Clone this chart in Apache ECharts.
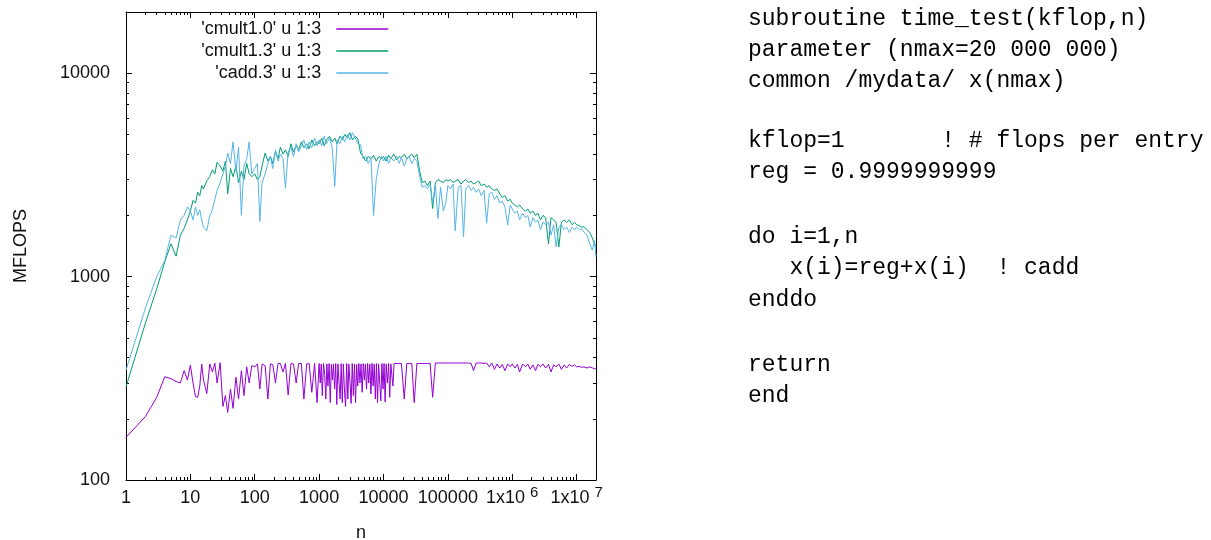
<!DOCTYPE html>
<html><head><meta charset="utf-8">
<script src="https://cdn.jsdelivr.net/npm/echarts@6/dist/echarts.min.js"></script>
<style>html,body{margin:0;padding:0;background:#fff;} #chart{width:1211px;height:540px;}</style>
</head><body><div id="chart"></div>
<script>
// n values (x) for 'cmult1.3' and 'cadd.3'
const nValues = [
  1,2,3,4,5,6,7,8,9,
  10,11,12,13,14,15,16,18,20,22,24,26,29,32,35,38,42,46,51,56,62,68,75,82,90,
  100,110,120,130,145,160,175,190,210,230,250,275,300,330,365,400,440,480,530,580,640,700,770,850,930,
  1000,1100,1200,1300,1450,1600,1750,1900,2100,2300,2500,2750,3000,3300,3650,4000,4400,4800,5300,5800,6400,7000,7700,8500,9300,
  10000,11000,12000,13000,14500,16000,17500,19000,21000,23000,25000,27500,30000,33000,36500,40000,44000,48000,53000,58000,64000,70000,77000,85000,93000,
  100000,110000,120000,130000,145000,160000,175000,190000,210000,230000,250000,275000,300000,330000,365000,400000,440000,480000,530000,580000,640000,700000,770000,850000,930000,
  1000000,1100000,1200000,1300000,1450000,1600000,1750000,1900000,2100000,2300000,2500000,2750000,3000000,3300000,3650000,4000000,4400000,4800000,5300000,5800000,6400000,7000000,7700000,8500000,9300000,
  10000000,11000000,12000000,13000000,14500000,16000000,17500000,19000000,20000000
];
// n values (x) for 'cmult1.0' (denser where it is noisy)
const nPurple = [
  1,2,3,4,5,6,7,8,9,
  10,11,12,13,14,15,16,18,20,22,24,26,29,32,35,38,42,46,51,56,62,68,75,82,90,
  100,110,120,130,145,160,175,190,210,230,250,275,300,330,365,400,440,480,530,580,640,700,770,850,930,
  1000,1040,1080,1120,1170,1220,1270,1320,1370,1430,1490,1550,1610,1670,
  1740,1810,1880,1960,2040,2120,2200,2290,2380,2480,2580,2680,
  2790,2900,3020,3140,3270,3400,3540,3680,3830,3980,4140,4310,
  4480,4660,4850,5040,5240,5450,5670,5900,6140,6380,6640,6900,
  7180,7470,7770,8080,8400,8740,9090,9450,9830,
  10200,10600,11000,11500,12000,12500,13000,13500,14000,14600,
  15500,17000,19000,21000,23000,25000,27500,30000,33000,36500,40000,44000,48000,53000,58000,64000,70000,77000,85000,93000,
  100000,110000,120000,130000,145000,160000,175000,190000,210000,230000,250000,275000,300000,330000,365000,400000,440000,480000,530000,580000,640000,700000,770000,850000,930000,
  1000000,1100000,1200000,1300000,1450000,1600000,1750000,1900000,2100000,2300000,2500000,2750000,3000000,3300000,3650000,4000000,4400000,4800000,5300000,5800000,6400000,7000000,7700000,8500000,9300000,
  10000000,11000000,12000000,13000000,14500000,16000000,17500000,19000000,20000000
];
// MFLOPS, 'cmult1.0' u 1:3
const cmult10 = [
  162,205,255,322,315,305,300,345,310,
  367,300,257,255,290,372,310,266,372,340,375,300,377,230,260,215,280,225,320,250,345,260,360,300,365,
  360,372,280,372,365,250,372,370,300,374,374,340,374,262,374,372,300,374,374,250,372,374,270,374,240,
  374,300,372,260,374,330,250,372,290,374,240,370,310,372,
  280,374,235,372,300,250,374,240,372,270,230,374,
  250,372,300,238,374,260,372,240,370,290,374,300,
  372,270,374,310,372,280,374,300,372,265,374,290,
  372,250,374,240,372,300,245,374,280,
  374,242,372,300,374,255,372,374,290,374,
  374,374,374,250,374,374,374,240,374,374,374,374,374,374,255,376,376,376,376,376,
  376,376,376,376,376,376,376,376,376,374,345,376,376,376,374,376,360,376,350,372,355,370,345,372,360,
  372,355,370,340,372,360,372,350,368,345,370,360,372,355,370,340,368,360,372,350,368,355,370,362,368,
  360,362,358,360,355,360,356,352,355
];
// MFLOPS, 'cmult1.3' u 1:3
const cmult13 = [
  287,590,870,1180,1450,1260,1600,1730,1900,
  2100,2370,2300,2600,2500,2800,2700,2960,3100,3350,3200,3650,3500,3300,3700,2550,3400,3100,3500,2900,3300,3000,3600,3200,3100,
  3200,3000,3100,3500,4050,3700,3900,3600,4100,3800,4330,4000,4200,3900,4500,4100,4400,4200,4600,4300,4500,4250,4700,4400,4600,
  4500,4800,4400,4700,4900,4600,4800,4500,4900,4700,5000,4800,5100,4700,4900,4750,4050,3900,3700,3900,3800,3950,3700,3900,3800,
  3900,3700,3950,3800,4000,3750,3900,3850,4000,3800,3900,4000,3850,4000,3300,2900,2950,2800,2950,2160,2900,3000,2950,2900,3000,
  2950,3000,2900,2950,3000,2850,2950,3000,2900,2950,2850,2900,2950,2800,2850,2750,2800,2700,2650,2700,2550,2450,2500,2350,2400,
  2300,2250,2200,2250,2150,2100,2150,2050,2100,2000,2050,1900,2000,1950,1450,1950,1900,1850,1400,1850,1900,1850,1900,1800,1850,
  1800,1780,1750,1760,1700,1650,1550,1450,1400
];
// MFLOPS, 'cadd.3' u 1:3
const cadd3 = [
  347,700,1000,1200,1600,1550,1900,2000,2200,
  2100,1900,2200,2000,2130,1900,1750,1680,2000,2130,2400,2650,2900,3200,3480,4050,3600,4600,3300,4330,2000,3500,3800,4600,3200,
  3400,3600,1870,2900,3200,3600,3900,3400,4200,3700,4000,3800,2720,4100,4300,3900,4500,4100,4400,4700,4200,4600,4300,4800,4400,
  4700,4400,4900,4500,4800,4300,2780,4700,4500,4900,4600,5000,4700,5100,4800,4500,4450,3800,3900,3600,3850,2000,3000,3600,3900,
  3700,3900,3600,3850,3700,3900,3600,3850,3500,3800,3900,3600,3800,3700,3100,2750,2800,2700,2850,2300,2800,1930,2750,2100,2300,
  2800,2700,2850,1680,2750,2800,1570,2700,2800,2650,2750,2600,2700,2500,2650,1830,2550,2600,2400,2500,2300,2350,2200,1790,2250,
  2150,2050,2100,1900,2050,1950,2000,1750,1950,1850,1900,1700,1850,1800,1850,1600,1800,1400,1750,1800,1700,1750,1650,1750,1700,
  1750,1700,1720,1650,1600,1450,1350,1500,1250
];
const seriesNames = ["'cmult1.0' u 1:3", "'cmult1.3' u 1:3", "'cadd.3' u 1:3"];
const seriesColors = ['#9400d3', '#009e73', '#56b4e9'];
const xTickValues = [1, 10, 100, 1000, 10000, 100000, 1000000, 10000000];
const xTickLabels = ['1', '10', '100', '1000', '10000', '100000', '1x10{sup|6}', '1x10{sup|7}'];
const yTickValues = [100, 1000, 10000];
const yTickLabels = ['100', '1000', '10000'];
const xMinorTicks = [];
for (let d = 0; d <= 6; d++) for (let k = 2; k <= 9; k++) xMinorTicks.push(k * Math.pow(10, d));
const yMinorTicks = [];
for (let d = 2; d <= 3; d++) for (let k = 2; k <= 9; k++) yMinorTicks.push(k * Math.pow(10, d));
const codeLines = [
  'subroutine time_test(kflop,n)',
  'parameter (nmax=20 000 000)',
  'common /mydata/ x(nmax)',
  '',
  'kflop=1       ! # flops per entry',
  'reg = 0.9999999999',
  '',
  'do i=1,n',
  '   x(i)=reg+x(i)  ! cadd',
  'enddo',
  '',
  'return',
  'end'
];

// ---- layout / styling ----
const FONT = 'Liberation Sans';
const AX = '#000';
const codeLineCenterY = [19, 50, 81, 110, 141, 172, 205, 237, 268, 300, 333, 365, 396];
function findLabel(vals, labels, v) {
  for (let i = 0; i < vals.length; i++) {
    if (Math.abs(Math.log10(v) - Math.log10(vals[i])) < 1e-6) return labels[i];
  }
  return '';
}
function axis(kind, pos, ticks, len, opts) {
  const isX = kind === 'x';
  const base = {
    type: 'log', logBase: 10, gridIndex: 0, position: pos,
    min: isX ? 1 : 100, max: isX ? 20000000 : 20000,
    axisLine: { show: !!opts.line, onZero: false, lineStyle: { color: AX, width: 1 } },
    axisTick: { show: true, inside: true, length: len, customValues: ticks, lineStyle: { color: AX, width: 1 } },
    axisLabel: { show: false },
    splitLine: { show: false }, minorTick: { show: false }, minorSplitLine: { show: false }
  };
  if (opts.labels) {
    base.axisLabel = {
      show: true, customValues: isX ? xTickValues : yTickValues,
      margin: isX ? 5 : 16,
      lineHeight: isX ? 26 : 20,
      color: '#111', fontFamily: FONT, fontSize: 18,
      formatter: v => isX ? findLabel(xTickValues, xTickLabels, v) : findLabel(yTickValues, yTickLabels, v),
      rich: { sup: { fontFamily: FONT, fontSize: 15, color: '#111', padding: [0, 0, 11, 5] } }
    };
  }
  if (opts.name) {
    base.name = opts.name;
    base.nameLocation = 'middle';
    base.nameGap = isX ? 44 : 96;
    base.nameTextStyle = { color: '#111', fontFamily: FONT, fontSize: 18 };
  }
  return base;
}
function pairs(xs, ys) { return xs.map((x, j) => [x, ys[j]]); }

const chart = echarts.init(document.getElementById('chart'), null, { renderer: 'canvas' });
chart.setOption({
  animation: false,
  backgroundColor: '#fff',
  grid: { left: 126, top: 12, width: 470, height: 468, containLabel: false, outerBoundsMode: 'none' },
  xAxis: [
    axis('x', 'bottom', xTickValues, 6, { line: true, labels: true, name: 'n' }),
    axis('x', 'bottom', xMinorTicks, 3, {}),
    axis('x', 'top', xTickValues, 6, { line: true }),
    axis('x', 'top', xMinorTicks, 3, {})
  ],
  yAxis: [
    axis('y', 'left', yTickValues, 6, { line: true, labels: true, name: 'MFLOPS' }),
    axis('y', 'left', yMinorTicks, 3, {}),
    axis('y', 'right', yTickValues, 6, { line: true }),
    axis('y', 'right', yMinorTicks, 3, {})
  ],
  legend: seriesNames.map((name, i) => ({
    data: [name], orient: 'horizontal', align: 'right',
    right: 822, top: 20 + i * 22, padding: 0,
    itemWidth: 52, itemHeight: 14, itemGap: 0, selectedMode: false,
    itemStyle: { opacity: 0 },
    lineStyle: { width: 1.5 },
    textStyle: { fontFamily: FONT, fontSize: 18, color: '#111', padding: [0, 10, 0, 0] }
  })),
  series: [
    [nPurple, cmult10], [nValues, cmult13], [nValues, cadd3]
  ].map((d, i) => ({
    name: seriesNames[i], type: 'line', xAxisIndex: 0, yAxisIndex: 0,
    data: pairs(d[0], d[1]),
    showSymbol: false, symbol: 'none', silent: true, z: 2 + i,
    lineStyle: { color: seriesColors[i], width: 1 },
    itemStyle: { color: seriesColors[i] }
  })),
  graphic: codeLines.map((line, i) => ({
    type: 'text', x: 748, y: codeLineCenterY[i], silent: true,
    style: {
      text: line, fontFamily: 'Liberation Mono', fontSize: 23,
      fill: '#000', align: 'left', verticalAlign: 'middle'
    }
  }))
});
</script></body></html>
